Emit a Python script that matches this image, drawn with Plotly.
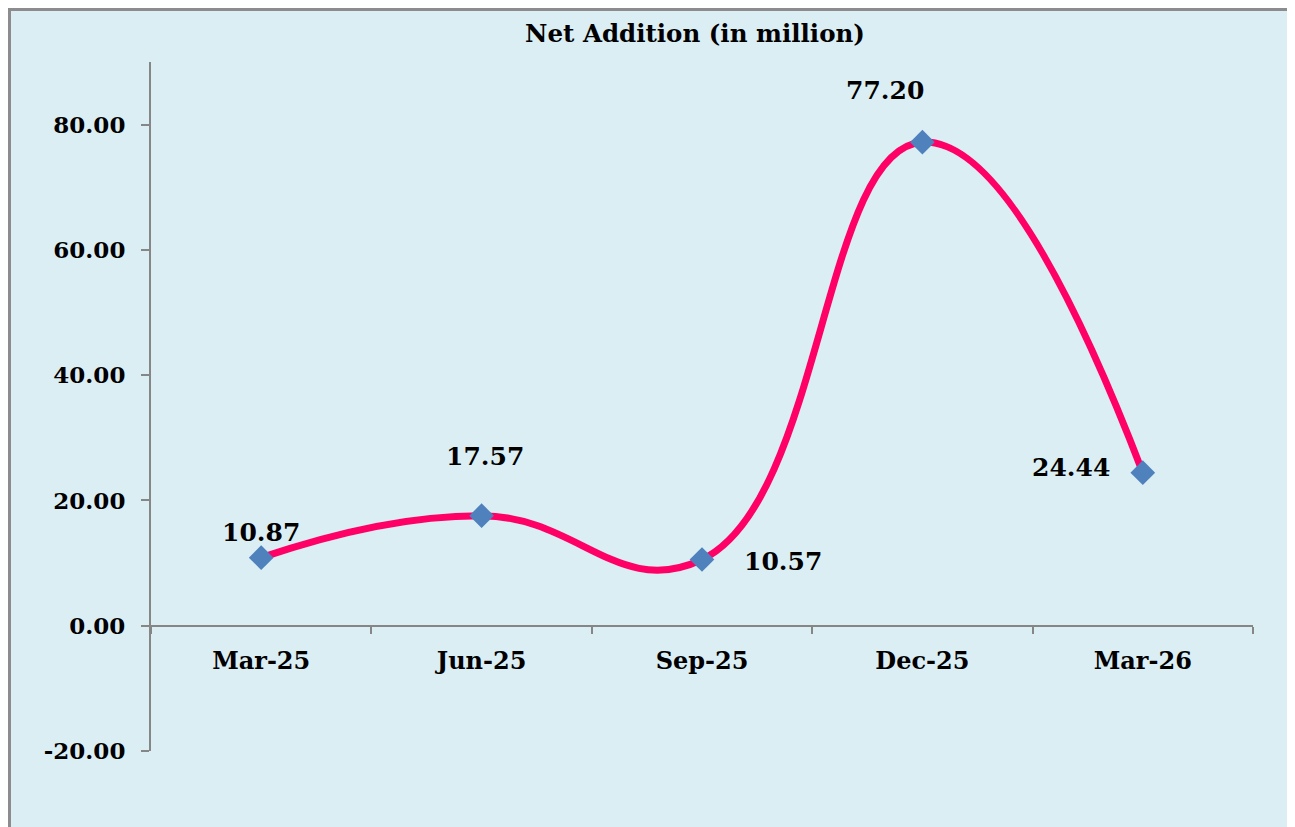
import plotly.graph_objects as go

categories = ["Mar-25", "Jun-25", "Sep-25", "Dec-25", "Mar-26"]
values = [10.87, 17.57, 10.57, 77.20, 24.44]
label_texts = ["10.87", "17.57", "10.57", "77.20", "24.44"]
y_ticks = [-20, 0, 20, 40, 60, 80]
y_tick_text = ["-20.00", "0.00", "20.00", "40.00", "60.00", "80.00"]
title_text = "Net Addition (in million)"

# label offsets (styling)
label_shift = [(0, 25), (3, 59), (81, -2), (-37, 52), (-72, 5)]

FONT = "DejaVu Serif"
AXIS_COL = "#868686"
OFF = 8  # page body margin
W, H = 1295 - OFF, 827 - OFF
ML, MR, MT, MB = 151 - OFF, 42, 62 - OFF, 76
PW, PH = W - ML - MR, H - MT - MB
YMIN, YMAX = -20, 90


def px_to_paper_x(px):
    return (px - OFF - ML) / PW


def px_to_paper_y(py):
    return (H - MB - (py - OFF)) / PH


fig = go.Figure()
fig.add_trace(go.Scatter(
    x=categories, y=values, mode="lines+markers",
    line=dict(color="#FF0066", width=7, shape="spline", smoothing=1.3),
    marker=dict(symbol="diamond", size=19, color="#4F81BD"),
    showlegend=False, hoverinfo="x+y",
))

for c, v, t, (dx, dy) in zip(categories, values, label_texts, label_shift):
    fig.add_annotation(x=c, y=v, text=t, showarrow=False,
                       xshift=dx, yshift=dy,
                       font=dict(family=FONT, size=25, color="#000000", weight="bold"))

fig.add_shape(type="rect", xref="paper", yref="paper",
              x0=px_to_paper_x(9.5), x1=px_to_paper_x(1292),
              y0=px_to_paper_y(850), y1=px_to_paper_y(9.5),
              line=dict(color="#8C8C8C", width=3),
              fillcolor="#DBEEF4", layer="below")

fig.update_layout(
    width=W, height=H,
    margin=dict(l=ML, r=MR, t=MT, b=MB),
    paper_bgcolor="white",
    plot_bgcolor="rgba(0,0,0,0)",
    title=dict(text=title_text, x=px_to_paper_x(695), xref="paper",
               xanchor="center", y=1 - (33 - OFF) / H, yanchor="middle",
               font=dict(family=FONT, size=24.5, color="#000000", weight="bold")),
    xaxis=dict(
        type="category", range=[-0.5, 4.5], tickson="boundaries",
        showline=True, linecolor=AXIS_COL, linewidth=2,
        ticks="outside", ticklen=7, tickcolor=AXIS_COL, tickwidth=2,
        showgrid=False, zeroline=False,
        anchor="free", position=(0 - YMIN) / (YMAX - YMIN),
        tickfont=dict(family=FONT, size=24, color="#000000", weight="bold"),
        ticklabelstandoff=13,
    ),
    yaxis=dict(
        range=[YMIN, YMAX], tickvals=y_ticks, ticktext=y_tick_text,
        showline=True, linecolor=AXIS_COL, linewidth=2,
        ticks="outside", ticklen=8, tickcolor=AXIS_COL, tickwidth=2,
        showgrid=False, zeroline=False,
        tickfont=dict(family=FONT, size=23, color="#000000", weight="bold"),
        ticklabelstandoff=11,
    ),
)

fig.write_html("out.html")
